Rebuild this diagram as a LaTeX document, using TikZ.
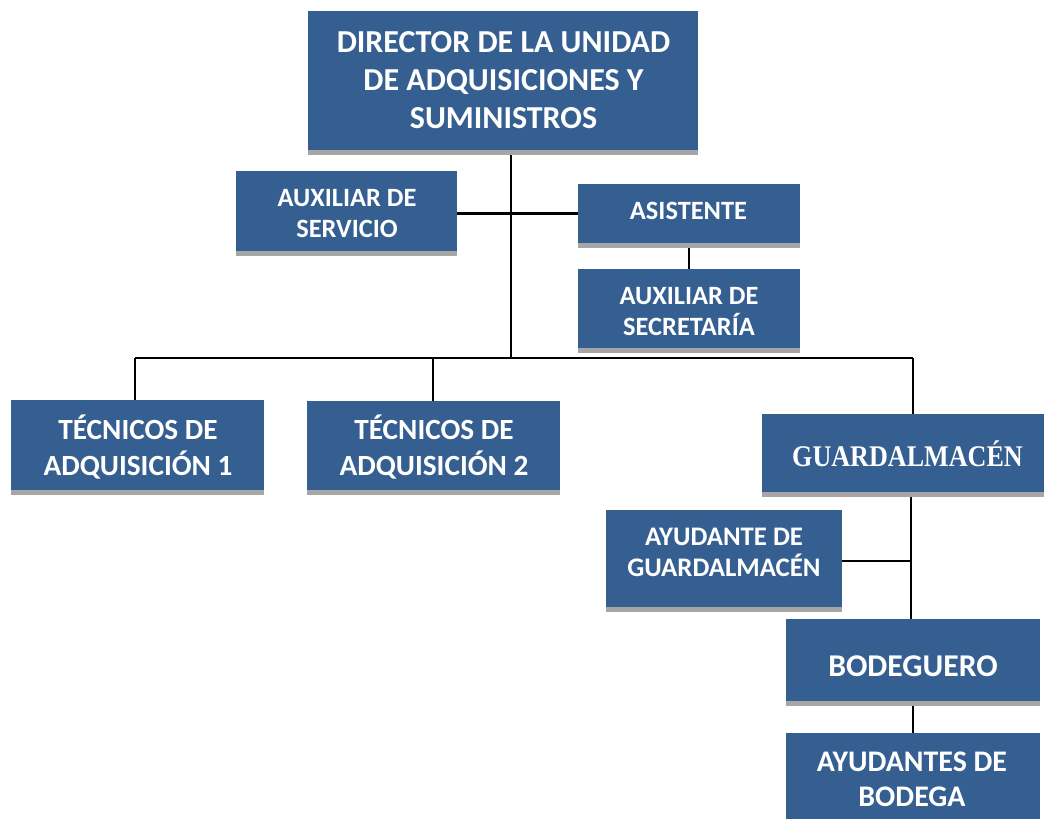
\documentclass[tikz,border=0pt]{standalone}
\usepackage{fontspec}
\setmainfont{Carlito}
\newfontfamily\serifb[FakeStretch=0.87]{Liberation Serif}
\usetikzlibrary{shadows,backgrounds}
\definecolor{boxblue}{RGB}{54,95,145}
\definecolor{shadowgray}{RGB}{166,166,166}
\tikzset{
  orgbox/.style={rectangle, fill=boxblue, draw=none, inner sep=0pt,
    drop shadow={shadow xshift=0pt, shadow yshift=-5pt, fill=shadowgray, opacity=1}},
  orgtext/.style={text=white, inner sep=0pt, align=center},
  conn/.style={draw=black, line width=2.1pt}
}
\begin{document}
\begin{tikzpicture}[x=1pt,y=-1pt]
\useasboundingbox (0,0) rectangle (1044,819);
\begin{scope}
\clip (0,0) rectangle (1044,819);
% boxes
\node[orgbox, minimum width=390, minimum height=139] (dir) at (503,80.5) {};
\node[orgbox, minimum width=221, minimum height=80] (auxserv) at (346.5,211) {};
\node[orgbox, minimum width=222, minimum height=59] (asist) at (689,213.5) {};
\node[orgbox, minimum width=222, minimum height=79] (auxsec) at (689,308.5) {};
\node[orgbox, minimum width=253, minimum height=90] (tec1) at (137.5,445) {};
\node[orgbox, minimum width=253, minimum height=89] (tec2) at (433.5,445.5) {};
\node[orgbox, minimum width=288, minimum height=78] (guard) at (906,453) {};
\node[orgbox, minimum width=236, minimum height=97] (ayudg) at (724,558.5) {};
\node[orgbox, minimum width=254, minimum height=82] (bod) at (913,660) {};
\node[orgbox, minimum width=254, minimum height=93] (ayudb) at (913,779.5) {};
% texts
\node[orgtext, font=\bfseries\fontsize{32}{38}\selectfont] (dirt) at (503.5,80) {DIRECTOR DE LA UNIDAD\\DE ADQUISICIONES Y\\SUMINISTROS};
\node[orgtext, font=\bfseries\fontsize{26.4}{31}\selectfont] (auxservt) at (347,213.5) {AUXILIAR DE\\SERVICIO};
\node[orgtext, font=\bfseries\fontsize{26.4}{31}\selectfont] (asistt) at (688.5,211) {ASISTENTE};
\node[orgtext, font=\bfseries\fontsize{26.4}{31}\selectfont] (auxsect) at (689,311.5) {AUXILIAR DE\\SECRETARÍA};
\node[orgtext, font=\bfseries\fontsize{29.3}{36}\selectfont] (tec1t) at (138,447) {TÉCNICOS DE\\ADQUISICIÓN 1};
\node[orgtext, font=\bfseries\fontsize{29.3}{36}\selectfont] (tec2t) at (434,447) {TÉCNICOS DE\\ADQUISICIÓN 2};
\node[orgtext, font=\serifb\bfseries\fontsize{30}{36}\selectfont] (guardt) at (907.5,454) {GUARDALMACÉN};
\node[orgtext, font=\bfseries\fontsize{26.8}{31}\selectfont] (ayudgt) at (724,552.5) {AYUDANTE DE\\GUARDALMACÉN};
\node[orgtext, font=\bfseries\fontsize{31.7}{36}\selectfont] (bodt) at (913,666) {BODEGUERO};
\node[orgtext, font=\bfseries\fontsize{29.9}{35}\selectfont] (ayudbt) at (912,779.5) {AYUDANTES DE\\BODEGA};
% connectors
\coordinate (bL) at (135,358);
\coordinate (bM) at (511,358);
\coordinate (bT) at (433,358);
\coordinate (bR) at (913,358);
\coordinate (jG) at (911,561);
\begin{scope}[on background layer]
\draw[conn] (dir.south -| bM) -- (bM);
\draw[conn] (bL) -- (bR);
\draw[conn] (auxserv.east |- asist.west) -- (asist.west);
\draw[conn] (asist.south) -- (auxsec.north);
\draw[conn] (bL) -- (bL |- tec1.north);
\draw[conn] (bT) -- (bT |- tec2.north);
\draw[conn] (bR) -- (bR |- guard.north);
\draw[conn] (guard.south -| jG) -- (bod.north -| jG);
\draw[conn] (ayudg.east |- jG) -- (jG);
\draw[conn] (bod.south) -- (ayudb.north);
\end{scope}
\end{scope}
\end{tikzpicture}
\end{document}
